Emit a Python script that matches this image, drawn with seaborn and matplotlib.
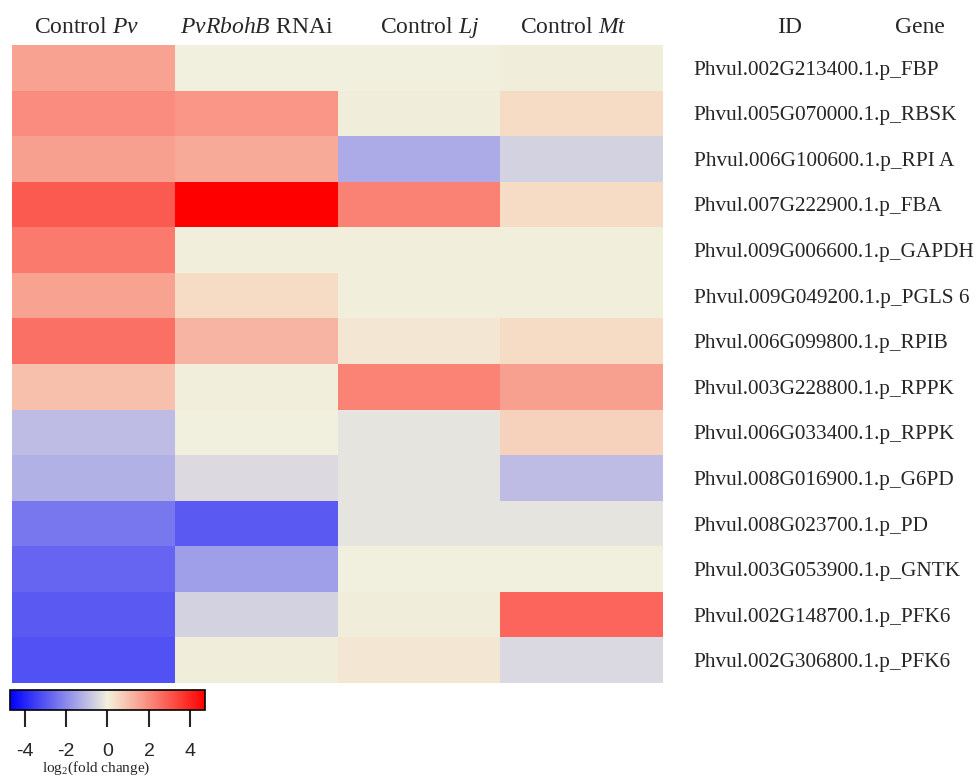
import numpy as np
import pandas as pd
import matplotlib
matplotlib.use("Agg")
import matplotlib.pyplot as plt
import matplotlib.transforms as mtransforms
import seaborn as sns
from matplotlib.colors import LinearSegmentedColormap

# ---- data ----
conditions = ["Control Pv", "PvRbohB RNAi", "Control Lj", "Control Mt"]
column_labels = [r"Control $\mathit{Pv}$", r"$\mathit{PvRbohB}$ RNAi",
                 r"Control $\mathit{Lj}$", r"Control $\mathit{Mt}$"]
gene_ids = [
    "Phvul.002G213400.1.p_FBP",
    "Phvul.005G070000.1.p_RBSK",
    "Phvul.006G100600.1.p_RPI A",
    "Phvul.007G222900.1.p_FBA",
    "Phvul.009G006600.1.p_GAPDH",
    "Phvul.009G049200.1.p_PGLS 6",
    "Phvul.006G099800.1.p_RPIB",
    "Phvul.003G228800.1.p_RPPK",
    "Phvul.006G033400.1.p_RPPK",
    "Phvul.008G016900.1.p_G6PD",
    "Phvul.008G023700.1.p_PD",
    "Phvul.003G053900.1.p_GNTK",
    "Phvul.002G148700.1.p_PFK6",
    "Phvul.002G306800.1.p_PFK6",
]
control_pv = [1.56, 1.98, 1.58, 2.95, 2.33, 1.56, 2.53, 0.97, -1.00, -1.23, -2.36, -2.71, -2.95, -3.10]
rnai       = [0.00, 1.79, 1.40, 4.70, 0.02, 0.45, 1.21, 0.02, 0.00, -0.41, -2.95, -1.58, -0.57, 0.05]
control_lj = [0.00, 0.05, -1.35, 2.18, 0.02, 0.02, 0.20, 2.16, -0.21, -0.21, -0.21, 0.00, 0.05, 0.22]
control_mt = [0.05, 0.45, -0.57, 0.45, 0.02, 0.02, 0.45, 1.58, 0.66, -1.00, -0.21, 0.00, 2.72, -0.45]
cbar_ticks = [-4, -2, 0, 2, 4]
cbar_ticklabels = ["-4", "-2", "0", "2", "4"]

df = pd.DataFrame({c: v for c, v in zip(conditions, [control_pv, rnai, control_lj, control_mt])},
                  index=gene_ids)

# ---- style ----
sns.set_style("white")
plt.rcParams["font.family"] = ["Liberation Serif", "DejaVu Serif"]
plt.rcParams["mathtext.fontset"] = "custom"
plt.rcParams["mathtext.rm"] = "Liberation Serif"
plt.rcParams["mathtext.it"] = "Liberation Serif:italic"
plt.rcParams["axes.unicode_minus"] = False

cmap = LinearSegmentedColormap.from_list(
    "bcr",
    [(0.0, (0, 0, 1)),
     (0.5, (241/255, 239/255, 221/255)),
     (0.55, (246/255, 218/255, 196/255)),
     (1.0, (1, 0, 0))], N=512)

W, H = 978, 780
fig = plt.figure(figsize=(W/100, H/100), dpi=100)
ax = fig.add_axes([12/W, 1 - 683/H, 651/W, 638/H])
cax = fig.add_axes([10/W, 1 - 710/H, 195/W, 20/H])

sns.heatmap(df, ax=ax, cmap=cmap, vmin=-4.7, vmax=4.7, cbar=True, cbar_ax=cax,
            cbar_kws={"orientation": "horizontal", "ticks": cbar_ticks},
            linewidths=0)

# column headers (top, baseline aligned)
ax.set_xticks([])
header_shift_px = [-7, 1, 11, -8]
base = mtransforms.blended_transform_factory(ax.transData, ax.transAxes)
for i, (lab, dx) in enumerate(zip(column_labels, header_shift_px)):
    tr = base + mtransforms.ScaledTranslation(dx / 100, 12 / 100, fig.dpi_scale_trans)
    ax.text(i + 0.5, 1.0, lab, transform=tr, ha="center", va="baseline", fontsize=17)

ax.yaxis.tick_right()
ax.set_yticklabels(gene_ids, fontsize=15.3, rotation=0)
ax.tick_params(axis="y", length=0, pad=22)
ax.set_xlabel("")
ax.set_ylabel("")

fig.text(790/W, 1 - 33/H, "ID", fontsize=17, ha="center", va="baseline")
fig.text(920/W, 1 - 33/H, "Gene", fontsize=17, ha="center", va="baseline")

# colorbar styling
cbar = ax.collections[0].colorbar
cbar.outline.set_edgecolor("black")
cbar.outline.set_linewidth(1.2)
cax.set_xticks(cbar_ticks)
cax.set_xticklabels(cbar_ticklabels)
cax.tick_params(axis="x", length=12, width=1.5, pad=12, labelsize=14,
                bottom=True, direction="out")
for lbl in cax.get_xticklabels():
    lbl.set_fontfamily(["Liberation Sans", "DejaVu Sans"])
cax.set_xlabel(r"log$_2$(fold change)", fontsize=11)
cax.xaxis.set_label_coords(0.444, -2.5)

fig.savefig("out.png", dpi=100)
